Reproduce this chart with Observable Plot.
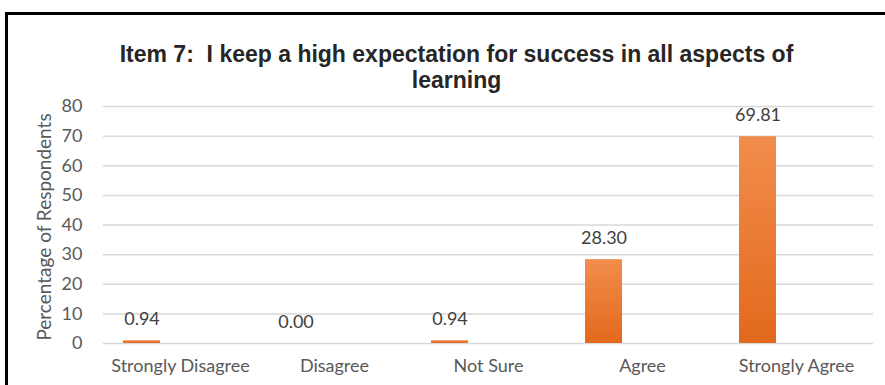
<!DOCTYPE html>
<html>
<head>
<meta charset="utf-8">
<script src="https://cdn.jsdelivr.net/npm/d3@7"></script>
<script src="https://cdn.jsdelivr.net/npm/@observablehq/plot@0.6"></script>
<style>
  html, body { margin: 0; padding: 0; background: #fff; overflow: hidden; }
  #wrap { position: relative; width: 885px; height: 385px; overflow: hidden; }
  #frame { position: absolute; left: 5px; top: 12px; width: 1000px; height: 500px;
           border-top: 3px solid #000; border-left: 3px solid #000; }
  #title { position: relative; box-sizing: border-box; width: 885px; height: 86px;
           padding-top: 41px; padding-left: 28px; text-align: center;
           font-family: "Liberation Sans Narrow", "Arial Narrow", "Liberation Sans", sans-serif;
           font-weight: bold; font-size: 23px; line-height: 26px; color: #262626; white-space: pre; }
  #chart { position: relative; }
</style>
</head>
<body>
<div id="wrap">
  <div id="frame"></div>
  <div id="title">Item 7:  I keep a high expectation for success in all aspects of
learning</div>
  <div id="chart"></div>
</div>
<script>
const categories = ["Strongly Disagree", "Disagree", "Not Sure", "Agree", "Strongly Agree"];
const values = [0.94, 0.00, 0.94, 28.30, 69.81];
const yTicks = [0, 10, 20, 30, 40, 50, 60, 70, 80];
const yTitle = "Percentage of Respondents";

const data = categories.map((c, i) => ({category: c, value: values[i]}));

const W = 885, H = 299;
const mLeft = 103, mRight = 12;
const band = (W - mLeft - mRight) / categories.length;
const insetL = 20, insetR = 97;
const barCenterOffset = insetL + (band - insetL - insetR) / 2 - band / 2;

const plot = Plot.plot({
  width: W,
  height: H,
  marginLeft: mLeft,
  marginRight: mRight,
  marginTop: 20,
  marginBottom: 42,
  style: {fontFamily: "Lato, 'Open Sans', sans-serif", fontSize: "18px", color: "#595959", background: "transparent"},
  x: {domain: categories, padding: 0},
  y: {domain: [0, 80]},
  marks: [
    Plot.gridY(yTicks, {stroke: "#d9d9d9", strokeOpacity: 1, strokeWidth: 1.5}),
    Plot.barY(data, {x: "category", y: "value", fill: "url(#barGrad)", insetLeft: insetL, insetRight: insetR}),
    Plot.text(data, {x: "category", y: "value", text: d => d.value.toFixed(2), dx: barCenterOffset, dy: -21,
                     fill: "#404040", fontSize: 18}),
    Plot.axisX({tickSize: 0, tickPadding: 16, label: null, fill: "#595959", fontSize: 18}),
    Plot.axisY(yTicks, {tickSize: 0, tickPadding: 21, label: null, fill: "#595959", fontSize: 18}),
    Plot.text([yTitle], {frameAnchor: "left", textAnchor: "middle", rotate: -90, dx: -59, dy: 2,
                         fill: "#595959", fontSize: 19})
  ]
});

const svg = d3.select(plot);
const defs = svg.insert("defs", ":first-child");
const g = defs.append("linearGradient").attr("id", "barGrad").attr("x1", 0).attr("y1", 0).attr("x2", 0).attr("y2", 1);
g.append("stop").attr("offset", "0%").attr("stop-color", "#F28D4D");
g.append("stop").attr("offset", "100%").attr("stop-color", "#E2691C");

document.getElementById("chart").appendChild(plot);
</script>
</body>
</html>
